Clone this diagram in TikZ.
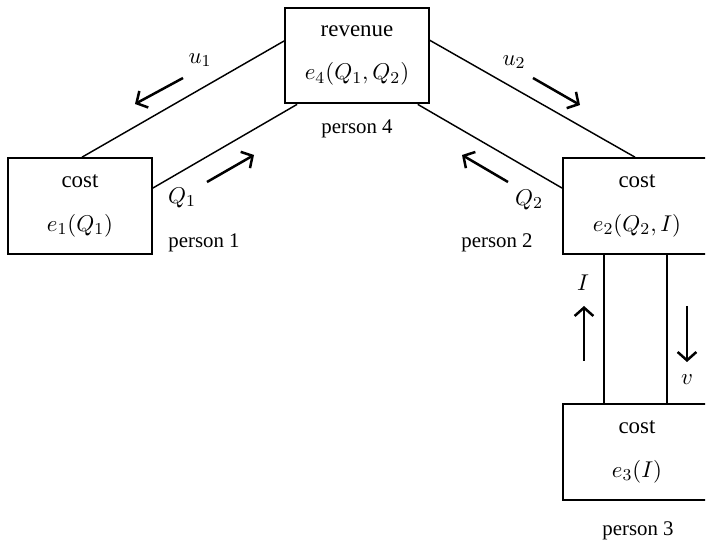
\documentclass[tikz,border=0pt]{standalone}
\usepackage{amsmath,amssymb}
\usepackage[no-math]{fontspec}
\setmainfont{Liberation Serif}
\usepackage{tikz}
\usetikzlibrary{arrows.meta,positioning,calc}
\tikzset{
  agentbox/.style={
    rectangle, draw=black, line width=0.9pt,
    minimum width=69pt, minimum height=46pt, inner sep=1pt,
    align=center, font=\fontsize{11}{13}\selectfont
  },
  flowline/.style={line width=0.7pt},
  flowarrow/.style={-{Straight Barb[length=4pt,width=9pt]},line width=1.2pt},
  flowlabel/.style={font=\fontsize{11}{13}\selectfont,inner sep=1pt},
  ownerlabel/.style={font=\fontsize{10}{12}\selectfont,inner sep=1pt}
}

\begin{document}
\begin{tikzpicture}[x=0.48pt,y=-0.48pt]
  \useasboundingbox (0,0) rectangle (707,544);
  \clip (0,0) rectangle (705,544);

  % Boxes
  \node[agentbox] (rev) at (357,55.5) {revenue\\[8pt]$e_4(Q_1,Q_2)$};
  \node[agentbox] (c1) at (80,206) {cost\\[8pt]$e_1(Q_1)$};
  \node[agentbox,minimum width=71pt] (c2) at (637,206) {cost\\[8pt]$e_2(Q_2,I)$};
  \node[agentbox,minimum width=71pt] (c3) at (637,452) {cost\\[8pt]$e_3(I)$};

  \node[ownerlabel] (p4) at (357,129) {person 4};
  \node[ownerlabel] (p1) at (204,243) {person 1};
  \node[ownerlabel] (p2) at (497,243) {person 2};
  \node[ownerlabel] (p3) at (638,531) {person 3};

  % Connectors
  \draw[flowline] ([yshift=7pt]rev.west) -- ([xshift=1pt]c1.north);
  \draw[flowline] ([xshift=6.2pt]rev.south west) -- ([yshift=8.6pt]c1.east);
  \draw[flowline] ([yshift=7.3pt]rev.east) -- ([xshift=-1pt]c2.north);
  \draw[flowline] ([xshift=-5.8pt]rev.south east) -- ([yshift=8.6pt]c2.west);
  \draw[flowline] ([xshift=-15.9pt]c2.south) -- ([xshift=-15.9pt]c3.north);
  \draw[flowline] ([xshift=14.4pt]c2.south) -- ([xshift=14.4pt]c3.north);

  % Flows
  \node[flowlabel] (lu1) at (200,60) {$u_1$};
  \node[flowlabel] (lq1) at (182,198) {$Q_1$};
  \node[flowlabel] (lu2) at (514,62) {$u_2$};
  \node[flowlabel] (lq2) at (529,200) {$Q_2$};
  \node[flowlabel] (li) at (583,283) {$I$};
  \node[flowlabel] (lv) at (687,380) {$v$};

  \draw[flowarrow] (183,78) -- (135,104);
  \draw[flowarrow] (207,182) -- (254,155);
  \draw[flowarrow] (533,78) -- (580,105);
  \draw[flowarrow] (508,182) -- (462,155);
  \draw[flowarrow] (584,361) -- (584,306);
  \draw[flowarrow] (687,306) -- (687,362);
\end{tikzpicture}
\end{document}
